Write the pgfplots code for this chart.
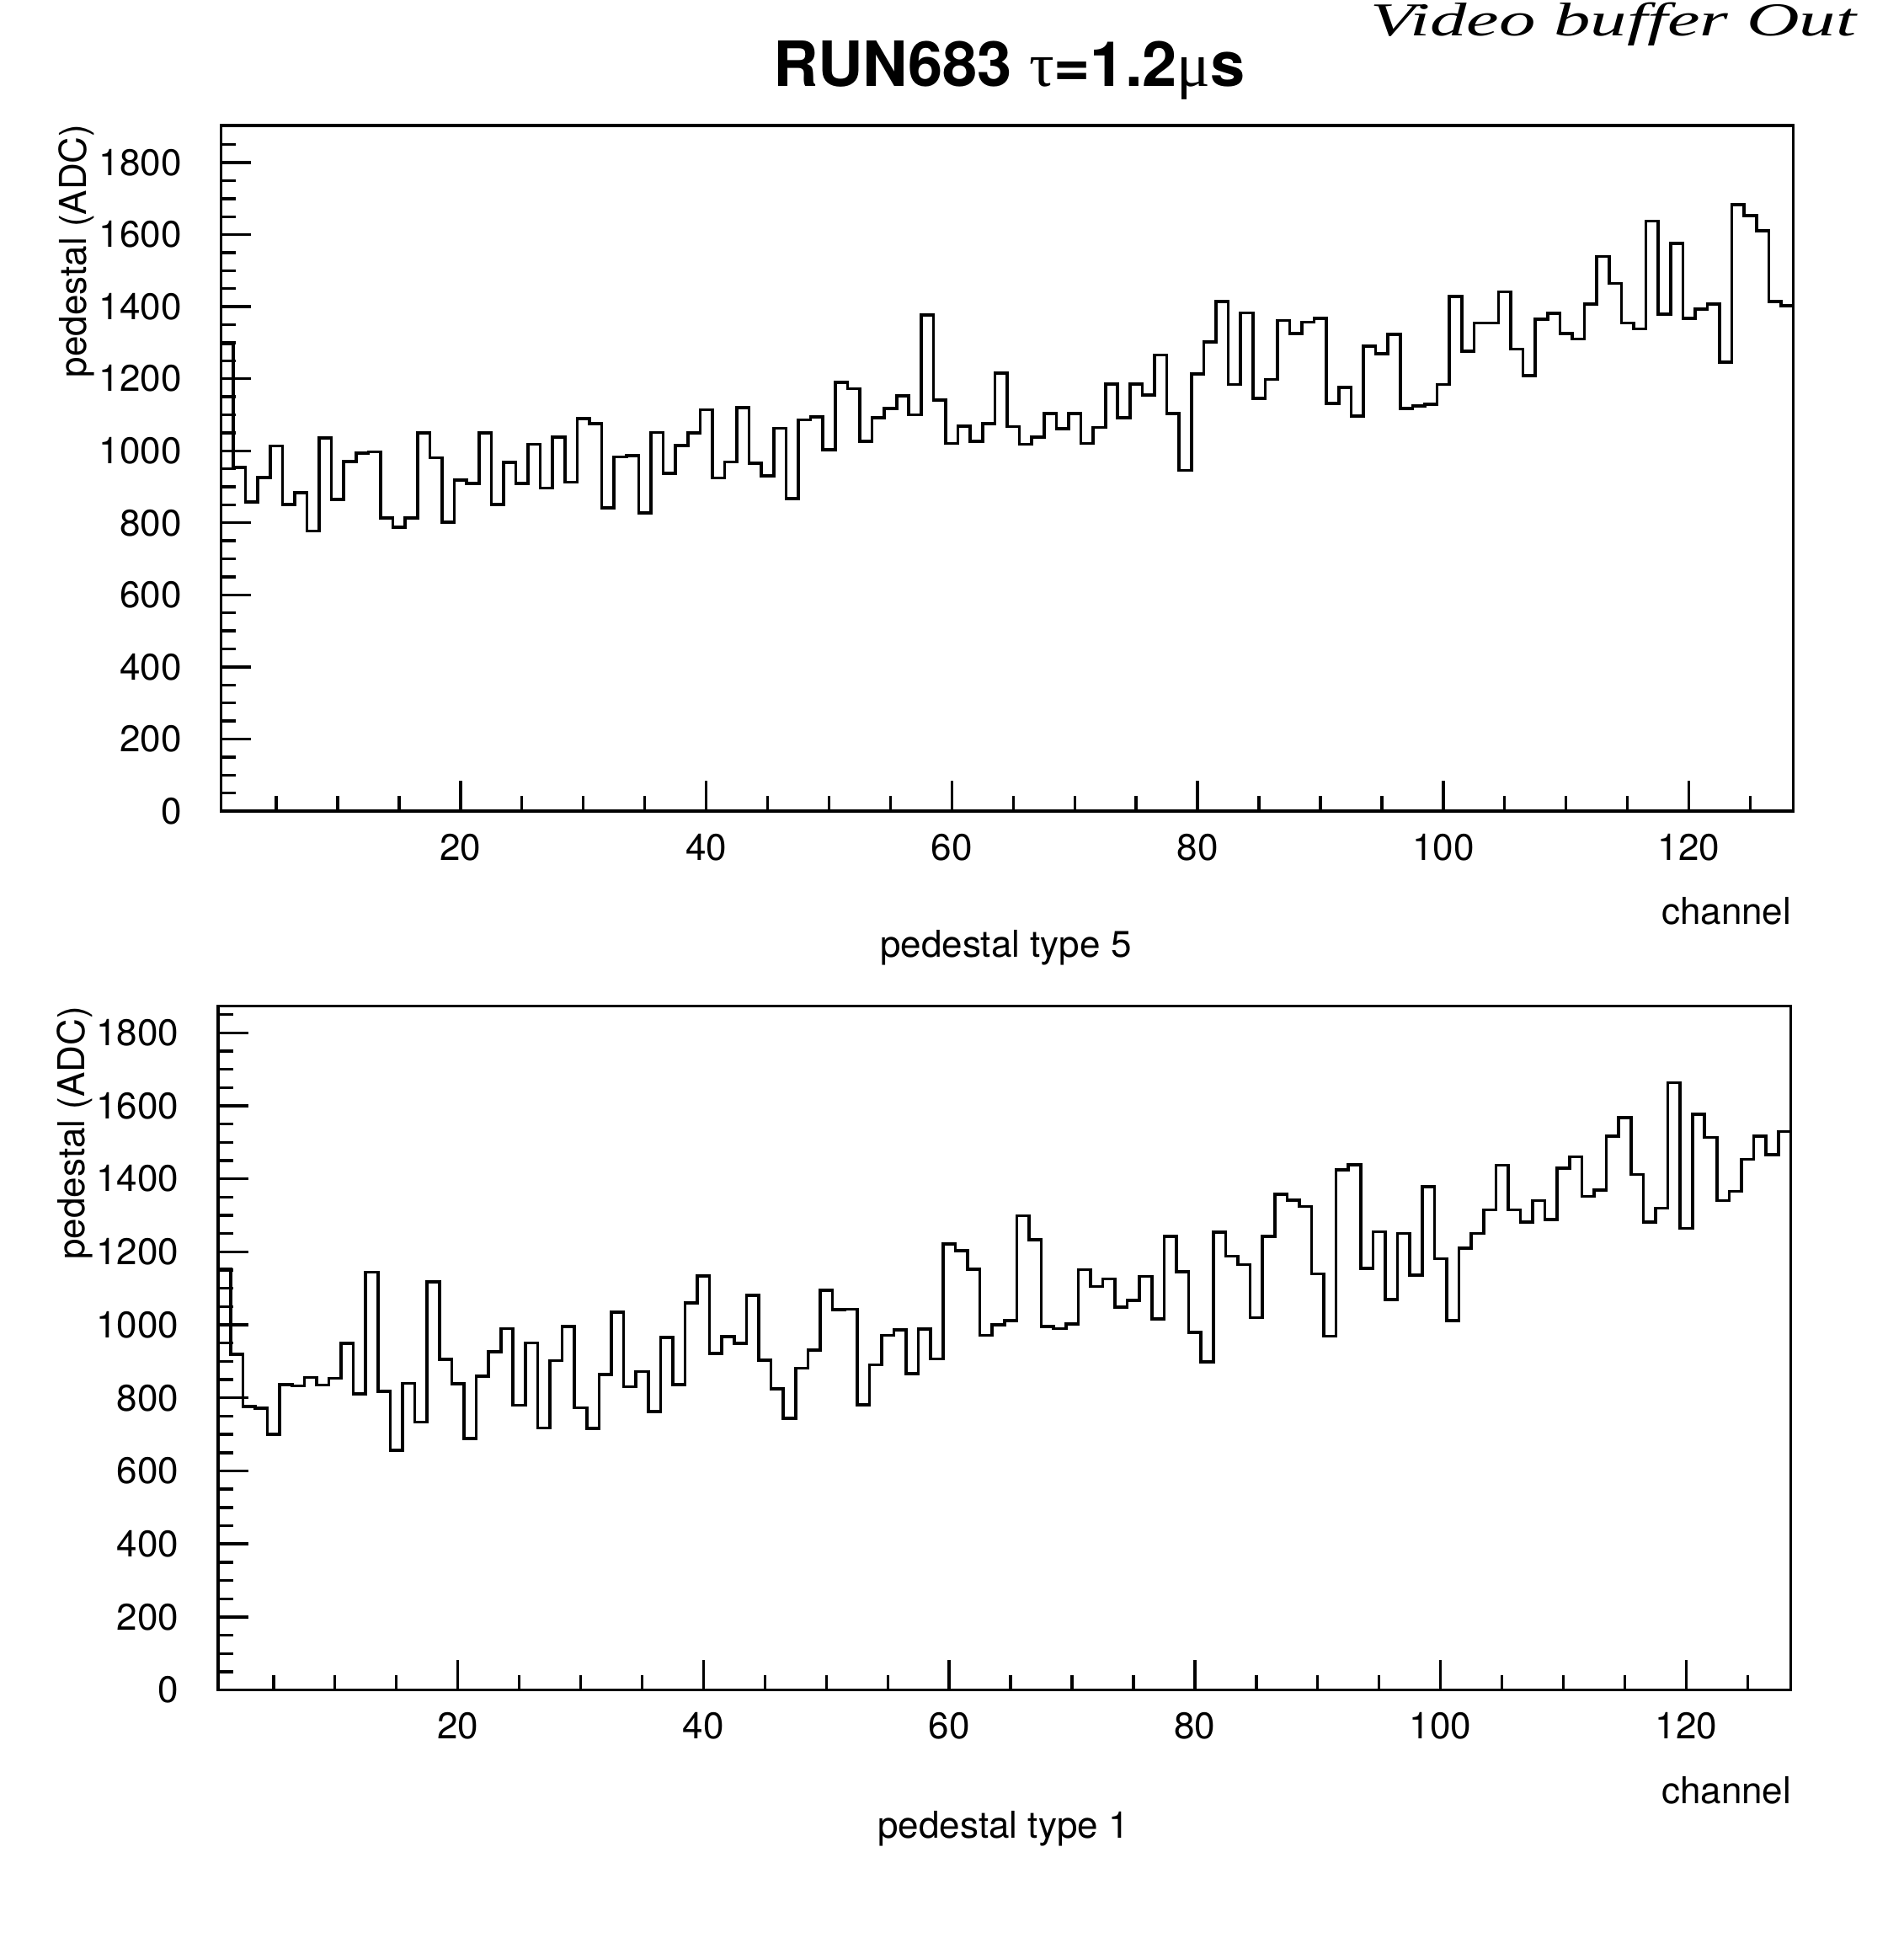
\documentclass[border=0pt]{standalone}
\usepackage{fontspec}
\setmainfont{TeX Gyre Heros}
\newfontfamily\symfont{Liberation Serif}
\usepackage{pgfplots}
\usepackage{pgfplotstable}
\pgfplotsset{compat=1.18}

\pgfplotstableread{
x y
0.5 1297
1.5 954
2.5 858
3.5 926
4.5 1013
5.5 851
6.5 883
7.5 777
8.5 1036
9.5 865
10.5 970
11.5 994
12.5 997
13.5 814
14.5 788
15.5 814
16.5 1049
17.5 981
18.5 802
19.5 919
20.5 909
21.5 1049
22.5 851
23.5 968
24.5 909
25.5 1018
26.5 897
27.5 1038
28.5 913
29.5 1089
30.5 1075
31.5 841
32.5 983
33.5 986
34.5 827
35.5 1051
36.5 938
37.5 1014
38.5 1049
39.5 1114
40.5 925
41.5 969
42.5 1120
43.5 965
44.5 930
45.5 1063
46.5 868
47.5 1086
48.5 1094
49.5 1003
50.5 1190
51.5 1172
52.5 1026
53.5 1092
54.5 1117
55.5 1153
56.5 1100
57.5 1377
58.5 1141
59.5 1020
60.5 1068
61.5 1026
62.5 1076
63.5 1215
64.5 1067
65.5 1018
66.5 1038
67.5 1104
68.5 1061
69.5 1104
70.5 1020
71.5 1065
72.5 1185
73.5 1092
74.5 1185
75.5 1155
76.5 1266
77.5 1104
78.5 946
79.5 1213
80.5 1302
81.5 1414
82.5 1184
83.5 1383
84.5 1145
85.5 1198
86.5 1362
87.5 1326
88.5 1357
89.5 1367
90.5 1131
91.5 1176
92.5 1096
93.5 1291
94.5 1270
95.5 1323
96.5 1117
97.5 1125
98.5 1129
99.5 1184
100.5 1428
101.5 1276
102.5 1355
103.5 1355
104.5 1441
105.5 1282
106.5 1209
107.5 1365
108.5 1381
109.5 1326
110.5 1310
111.5 1407
112.5 1539
113.5 1465
114.5 1355
115.5 1338
116.5 1638
117.5 1380
118.5 1576
119.5 1367
120.5 1393
121.5 1407
122.5 1246
123.5 1683
124.5 1653
125.5 1611
126.5 1414
127.5 1402
128.5 1402
}\typefive

\pgfplotstableread{
x y
0.5 1152
1.5 920
2.5 777
3.5 772
4.5 700
5.5 836
6.5 833
7.5 856
8.5 835
9.5 854
10.5 949
11.5 811
12.5 1144
13.5 818
14.5 656
15.5 840
16.5 734
17.5 1118
18.5 905
19.5 839
20.5 689
21.5 860
22.5 926
23.5 990
24.5 780
25.5 951
26.5 718
27.5 902
28.5 996
29.5 773
30.5 716
31.5 864
32.5 1035
33.5 831
34.5 872
35.5 763
36.5 965
37.5 837
38.5 1060
39.5 1134
40.5 922
41.5 968
42.5 949
43.5 1081
44.5 903
45.5 825
46.5 744
47.5 881
48.5 931
49.5 1095
50.5 1041
51.5 1043
52.5 781
53.5 891
54.5 971
55.5 987
56.5 866
57.5 988
58.5 907
59.5 1221
60.5 1203
61.5 1152
62.5 971
63.5 1000
64.5 1012
65.5 1299
66.5 1233
67.5 996
68.5 990
69.5 1002
70.5 1151
71.5 1105
72.5 1126
73.5 1048
74.5 1067
75.5 1133
76.5 1017
77.5 1243
78.5 1146
79.5 980
80.5 899
81.5 1254
82.5 1188
83.5 1165
84.5 1020
85.5 1243
86.5 1358
87.5 1342
88.5 1324
89.5 1140
90.5 969
91.5 1424
92.5 1439
93.5 1155
94.5 1255
95.5 1070
96.5 1250
97.5 1136
98.5 1379
99.5 1181
100.5 1012
101.5 1210
102.5 1250
103.5 1315
104.5 1437
105.5 1315
106.5 1282
107.5 1340
108.5 1289
109.5 1429
110.5 1460
111.5 1352
112.5 1369
113.5 1517
114.5 1568
115.5 1412
116.5 1281
117.5 1320
118.5 1663
119.5 1264
120.5 1577
121.5 1513
122.5 1340
123.5 1366
124.5 1453
125.5 1517
126.5 1466
127.5 1530
128.5 1530
}\typeone

\pgfplotsset{
  pawstyle/.style={
    scale only axis,
    width=466.8pt, height=203.5pt,
    xmin=0.5, xmax=128.5, ymin=0,
    axis line style={line width=0.9pt},
    tick pos=left, tick align=inside,
    xtick={20,40,...,120}, minor xtick={5,10,...,125},
    ytick={0,200,...,1800}, minor ytick={50,100,...,1850},
    major tick length=9pt, minor tick length=4.5pt,
    tick style={line width=0.85pt, black},
    ticklabel style={font=\fontsize{11}{13}\selectfont},
    /pgf/number format/assume math mode=true,
    /pgf/number format/1000 sep={},
    scaled ticks=false,
    yticklabel style={xshift=-8.2pt},
    xticklabel style={yshift=-3.2pt},
  }
}

\begin{document}
\begin{tikzpicture}
\useasboundingbox (0,0) rectangle (565.25pt,576.75pt);

\begin{axis}[pawstyle, ymax=1903, at={(65.6pt,336pt)}, anchor=south west]
\addplot[const plot, black, line width=0.9pt, mark=none] table[x=x,y=y]{\typefive};
\end{axis}

\begin{axis}[pawstyle, ymax=1873, height=203pt, at={(64.8pt,75.1pt)}, anchor=south west]
\addplot[const plot, black, line width=0.9pt, mark=none] table[x=x,y=y]{\typeone};
\end{axis}

% title
\node[anchor=base, font=\fontsize{18.5}{22}\selectfont\bfseries] at (299.6pt,551pt)
  {RUN683 {\symfont\mdseries τ}=1.2{\symfont\mdseries μ}s};

% handwritten note
\node[anchor=base, xscale=1.55, font=\fontsize{14}{16}\selectfont\symfont\itshape] at (479pt,566pt)
  {Video buffer Out};

% top panel labels
\node[rotate=90, anchor=base east, inner sep=0pt, font=\fontsize{11}{13}\selectfont] at (25.7pt,540pt) {pedestal (ADC)};
\node[anchor=base east, inner sep=0pt, font=\fontsize{11}{13}\selectfont] at (532pt,302.3pt) {channel};
\node[anchor=base, inner sep=0pt, font=\fontsize{11}{13}\selectfont] at (298.6pt,292.5pt) {pedestal type 5};

% bottom panel labels
\node[rotate=90, anchor=base east, inner sep=0pt, font=\fontsize{11}{13}\selectfont] at (25.2pt,278.2pt) {pedestal (ADC)};
\node[anchor=base east, inner sep=0pt, font=\fontsize{11}{13}\selectfont] at (532pt,41.3pt) {channel};
\node[anchor=base, inner sep=0pt, font=\fontsize{11}{13}\selectfont] at (297.9pt,31pt) {pedestal type 1};
\end{tikzpicture}
\end{document}
